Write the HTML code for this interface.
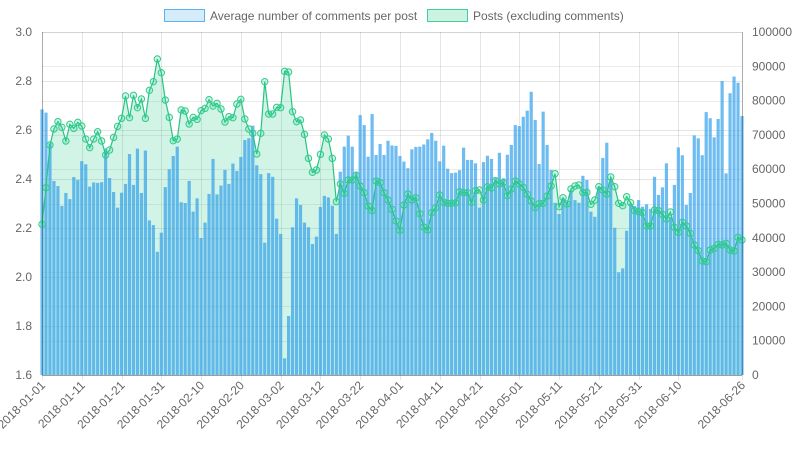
<!DOCTYPE html>
<html><head><meta charset="utf-8">
<style>
html,body{margin:0;padding:0;background:#fff;}
svg{display:block;font-family:"Liberation Sans",sans-serif;}
</style></head>
<body>
<svg id="chart" width="798" height="450" viewBox="0 0 798 450" xmlns="http://www.w3.org/2000/svg">
  <g>
    <g>
      <rect x="164.5" y="9.5" width="40" height="12" fill="rgba(54,162,235,0.2)" stroke="rgba(54,162,235,0.8)" stroke-width="1"/>
      <text x="210" y="20" font-size="12" fill="#666">Average number of comments per post</text>
    </g>
    <g>
      <rect x="427.5" y="9.5" width="40" height="12" fill="rgba(46,204,140,0.25)" stroke="rgba(46,204,140,0.9)" stroke-width="1"/>
      <text x="473" y="20" font-size="12" fill="#666">Posts (excluding comments)</text>
    </g>
  </g>
  <g id="grid"></g>
  <g id="fill"></g>
  <g id="bars"></g>
  <g id="line"></g>
  <g id="axes"></g>
</svg>
<script>
const startDate = "2018-01-01";
const avgComments = [
2.684,2.671,2.546,2.392,2.371,2.29,2.343,2.318,2.408,2.396,2.473,2.46,2.369,2.386,2.384,2.387,2.525,2.404,2.347,2.283,2.344,2.38,2.502,2.376,2.524,2.343,2.516,2.231,2.212,2.103,2.181,
2.367,2.44,2.494,2.532,2.305,2.302,2.392,2.267,2.321,2.159,2.222,2.339,2.482,2.337,2.373,2.437,2.38,2.463,2.433,2.49,2.559,2.566,2.618,2.456,2.42,2.14,2.424,2.409,2.238,
2.176,1.668,1.841,2.203,2.321,2.294,2.222,2.203,2.135,2.165,2.286,2.331,2.325,2.291,2.176,2.43,2.532,2.577,2.532,2.43,2.661,2.62,2.491,2.665,2.498,2.543,2.498,2.556,2.537,2.535,
2.494,2.471,2.444,2.521,2.531,2.532,2.541,2.562,2.588,2.556,2.472,2.536,2.442,2.424,2.426,2.436,2.528,2.478,2.478,2.464,2.283,2.469,2.495,2.482,2.403,2.507,2.403,2.499,2.539,2.62,
2.616,2.654,2.679,2.756,2.641,2.461,2.675,2.539,2.437,2.303,2.257,2.321,2.303,2.355,2.314,2.303,2.413,2.396,2.267,2.246,2.369,2.486,2.548,2.396,2.201,2.019,2.035,2.189,2.3,
2.29,2.314,2.287,2.297,2.278,2.409,2.335,2.366,2.464,2.246,2.376,2.529,2.497,2.294,2.343,2.578,2.566,2.497,2.673,2.648,2.57,2.645,2.8,2.423,2.75,2.818,2.793,2.657
];
const posts = [
43930,54620,67060,71720,73860,72210,68220,73080,71910,73660,72590,68800,66280,68800,70940,68220,64140,65600,69290,72500,74830,81340,75020,81530,77940,80470,74830,83000,85520,92130,88140,
80170,75120,68320,68800,77260,76970,73180,75120,74540,77060,77740,80270,78430,79200,77550,73760,75320,75020,79010,80370,74640,71720,70460,64430,70460,85520,76090,76090,78040,
77940,88530,88340,76770,73860,74340,70160,63170,59090,59770,64330,69970,68800,63170,50540,55690,52960,56850,56850,58210,55100,53160,49270,47910,56560,56080,53160,51020,48300,44900,
42190,49560,52770,51020,51690,47030,43150,42270,47320,48780,52480,50350,50060,50060,50230,53440,53160,53160,50350,53730,53940,51020,54900,54520,56650,55690,56080,52280,54230,56560,
55690,54710,52670,50730,48780,49950,50060,52190,55100,58700,49080,51690,49850,54230,55100,55390,53160,53250,49760,51020,54900,53940,52770,57730,54900,50060,49370,51990,50230,
47910,47620,47320,43440,43440,48100,47910,46840,45480,47520,43050,41590,44510,43440,41300,37900,36250,33240,33040,36440,36930,38100,37900,38390,36440,36150,40140,39360
];
const leftTicks = [1.6,1.8,2.0,2.2,2.4,2.6,2.8,3.0];
const rightTicks = [0,10000,20000,30000,40000,50000,60000,70000,80000,90000,100000];
const labelDays = [0,10,20,30,40,50,60,70,80,90,100,110,120,130,140,150,160,176];

const NS="http://www.w3.org/2000/svg";
const X0=42, X1=742, YT=32, YB=375;
const n=avgComments.length;
function xAt(i){return X0+i*(X1-X0)/(n-1);}
function yL(v){return YB-(v-1.6)/(3.0-1.6)*(YB-YT);}
function yR(v){return YB-v/100000*(YB-YT);}
function mk(tag,attrs,parent){const e=document.createElementNS(NS,tag);for(const k in attrs)e.setAttribute(k,attrs[k]);parent.appendChild(e);return e;}
function dateStr(i){const d=new Date(startDate+"T00:00:00Z");d.setUTCDate(d.getUTCDate()+i);return d.toISOString().slice(0,10);}

const grid=document.getElementById('grid');
leftTicks.forEach(t=>{const y=Math.round(yL(t))+0.5;mk('line',{x1:X0,x2:X1,y1:y,y2:y,stroke:'rgba(0,0,0,0.1)'},grid);});
rightTicks.forEach(t=>{const y=Math.round(yR(t))+0.5;mk('line',{x1:X0,x2:X1,y1:y,y2:y,stroke:'rgba(0,0,0,0.08)'},grid);});
labelDays.forEach(d=>{const x=Math.round(xAt(d))+0.5;mk('line',{x1:x,x2:x,y1:YT,y2:YB+5,stroke:'rgba(0,0,0,0.1)'},grid);});

// area fill
const fillG=document.getElementById('fill');
let pts=posts.map((v,i)=>xAt(i).toFixed(2)+','+yR(v).toFixed(2));
const area=mk('polygon',{points:xAt(0)+','+YB+' '+pts.join(' ')+' '+xAt(n-1)+','+YB,fill:'rgba(46,204,140,0.22)'},fillG);



// bars
const barsG=document.getElementById('bars');
avgComments.forEach((v,i)=>{
  const x=xAt(i), y=yL(v);
  const r=mk('rect',{x:(x-1.6).toFixed(2),y:y.toFixed(2),width:3.2,height:(YB-y).toFixed(2),fill:'rgba(54,162,235,0.72)'},barsG);
  
  
});

// line + points
const lineG=document.getElementById('line');
const pl=mk('polyline',{points:pts.join(' '),fill:'none',stroke:'rgb(38,196,130)','stroke-width':1.2},lineG);


posts.forEach((v,i)=>{
  const c=mk('circle',{cx:xAt(i).toFixed(2),cy:yR(v).toFixed(2),r:3.2,fill:'rgba(46,204,140,0.2)',stroke:'rgb(46,204,140)','stroke-width':1},lineG);
  
  
});

// axes
const ax=document.getElementById('axes');
mk('line',{x1:X0+0.5,x2:X0+0.5,y1:YT,y2:YB,stroke:'rgba(0,0,0,0.25)'},ax);
mk('line',{x1:X1+0.5,x2:X1+0.5,y1:YT,y2:YB,stroke:'rgba(0,0,0,0.25)'},ax);
mk('line',{x1:X0,x2:X1,y1:YB+0.5,y2:YB+0.5,stroke:'rgba(0,0,0,0.25)'},ax);
leftTicks.forEach(t=>{
  const tx=mk('text',{x:32,y:yL(t)+4,'text-anchor':'end','font-size':12,fill:'#666'},ax);
  tx.textContent=t.toFixed(1);
  
  
});
rightTicks.forEach(t=>{
  const tx=mk('text',{x:752,y:yR(t)+4,'text-anchor':'start','font-size':12,fill:'#666'},ax);
  tx.textContent=String(t);
  
  
});
labelDays.forEach(d=>{
  const x=xAt(d)+4, y=386;
  const tx=mk('text',{x:x,y:y,'text-anchor':'end','font-size':12,fill:'#666',transform:'rotate(-45 '+x+' '+y+')'},ax);
  tx.textContent=dateStr(d);
  
  
});
</script>
</body></html>
